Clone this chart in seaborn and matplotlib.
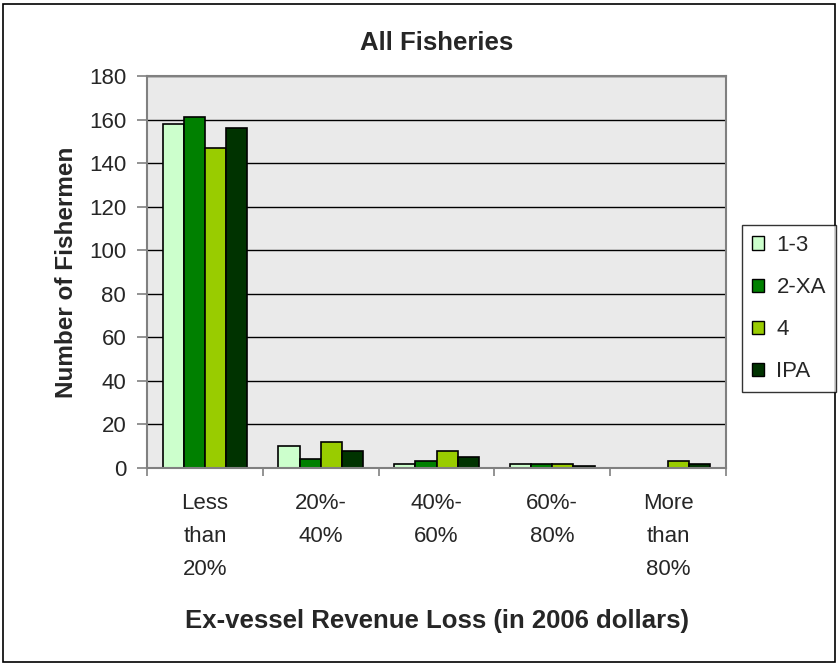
import matplotlib

matplotlib.use("Agg")
import matplotlib.pyplot as plt
import matplotlib.patches as mpatches
import numpy as np
import pandas as pd
import seaborn as sns

# Data
categories = ["Less\nthan\n20%", "20%-\n40%", "40%-\n60%", "60%-\n80%", "More\nthan\n80%"]
series = ["1-3", "2-XA", "4", "IPA"]
vals_13 = [158, 10, 2, 2, 0]
vals_2xa = [161, 4, 3, 2, 0]
vals_4 = [147, 12, 8, 2, 3]
vals_ipa = [156, 8, 5, 1, 2]
colors = ["#CCFFCC", "#008000", "#99CC00", "#003300"]

rows = []
for name, vals in zip(series, [vals_13, vals_2xa, vals_4, vals_ipa]):
    for cat, v in zip(categories, vals):
        rows.append({"category": cat, "series": name, "value": v})
df = pd.DataFrame(rows)

sns.set_style("white")
plt.rcParams["font.family"] = ["Liberation Sans", "DejaVu Sans"]

fig = plt.figure(figsize=(8.38, 6.65), dpi=100)
ax = fig.add_axes([147 / 838, 1 - 468 / 665, (726 - 147) / 838, (468 - 76) / 665])

sns.barplot(data=df, x="category", y="value", hue="series", order=categories,
            hue_order=series, palette=colors, saturation=1, width=0.73,
            edgecolor="black", linewidth=1.2, ax=ax, legend=False)

ax.set_facecolor("#EAEAEA")
ax.set_ylim(0, 180)
ax.set_xlim(-0.5, len(categories) - 0.5)
ax.set_yticks(np.arange(0, 181, 20))
ax.yaxis.grid(True, color="black", lw=1)
ax.set_axisbelow(True)
for side in ["top", "right", "left", "bottom"]:
    ax.spines[side].set_color("#808080")
    ax.spines[side].set_linewidth(1.5)

# category labels at centres, tick marks at boundaries (Excel style)
ax.set_xticks(np.arange(-0.5, len(categories), 1))
ax.set_xticklabels([])
ax.set_xticks(np.arange(len(categories)), minor=True)
ax.set_xticklabels(categories, minor=True, fontsize=16, linespacing=1.75)
ax.tick_params(axis="x", which="major", length=6, width=1.2, color="#808080", direction="out", bottom=True)
ax.tick_params(axis="x", which="minor", length=0, pad=18)
ax.tick_params(axis="y", length=7, width=1.2, color="#808080", direction="out", left=True,
               labelsize=16, pad=8)

ax.set_xlabel("Ex-vessel Revenue Loss (in 2006 dollars)", fontsize=18.5, fontweight="bold", labelpad=21)
ax.set_ylabel("Number of Fishermen", fontsize=17.5, fontweight="bold", labelpad=8)
ax.set_title("All Fisheries", fontsize=18.5, fontweight="bold", pad=19)

handles = [mpatches.Patch(facecolor=c, edgecolor="black", label=s) for c, s in zip(colors, series)]
leg = fig.legend(handles=handles, loc="upper left", bbox_to_anchor=(742 / 838, 1 - 225 / 665),
                 fontsize=16, frameon=True, fancybox=False, edgecolor="black",
                 handlelength=0.55, handleheight=0.55, handletextpad=0.55, labelspacing=0.95,
                 borderpad=0.45, borderaxespad=0)
leg.get_frame().set_linewidth(1)

fig.patches.append(mpatches.Rectangle((3 / 838, 3 / 665), 832 / 838, 658 / 665,
                                      transform=fig.transFigure, fill=False,
                                      edgecolor="black", lw=1.2))

fig.savefig("out.png", dpi=100)
